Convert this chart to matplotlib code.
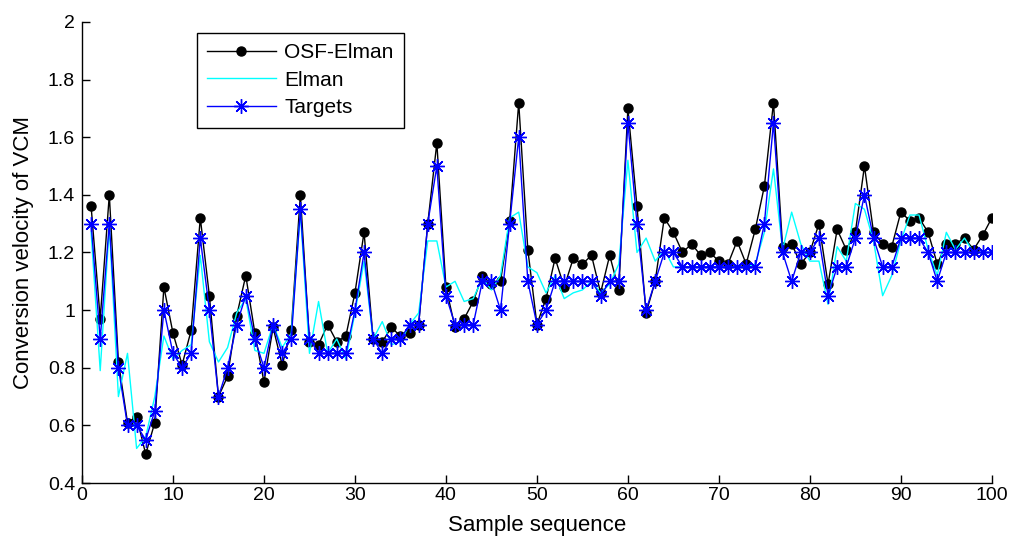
import numpy as np
import matplotlib
matplotlib.use("Agg")
import matplotlib.pyplot as plt

# ===== DATA =====
samples = np.arange(1, 101)

osf_elman = [1.36, 0.97, 1.40, 0.82, 0.61, 0.63, 0.50, 0.61, 1.08, 0.92,
             0.81, 0.93, 1.32, 1.05, 0.70, 0.77, 0.98, 1.12, 0.92, 0.75,
             0.94, 0.81, 0.93, 1.40, 0.89, 0.88, 0.95, 0.89, 0.91, 1.06,
             1.27, 0.90, 0.89, 0.94, 0.91, 0.92, 0.95, 1.30, 1.58, 1.08,
             0.94, 0.97, 1.03, 1.12, 1.09, 1.10, 1.31, 1.72, 1.21, 0.95,
             1.04, 1.18, 1.08, 1.18, 1.16, 1.19, 1.06, 1.19, 1.07, 1.70,
             1.36, 0.99, 1.10, 1.32, 1.27, 1.20, 1.23, 1.19, 1.20, 1.17,
             1.16, 1.24, 1.16, 1.28, 1.43, 1.72, 1.22, 1.23, 1.16, 1.20,
             1.30, 1.09, 1.28, 1.21, 1.27, 1.50, 1.27, 1.23, 1.22, 1.34,
             1.31, 1.32, 1.27, 1.16, 1.23, 1.23, 1.25, 1.21, 1.26, 1.32]

elman = [1.27, 0.79, 1.29, 0.70, 0.85, 0.52, 0.56, 0.70, 0.91, 0.83,
         0.86, 0.88, 1.19, 0.89, 0.82, 0.87, 0.99, 1.04, 0.86, 0.85,
         0.95, 0.87, 0.92, 1.34, 0.85, 1.03, 0.85, 0.90, 0.83, 0.99,
         1.17, 0.90, 0.96, 0.88, 0.89, 0.95, 0.99, 1.24, 1.24, 1.08,
         1.10, 1.03, 1.04, 1.11, 1.07, 1.12, 1.32, 1.34, 1.15, 1.13,
         1.06, 1.12, 1.04, 1.06, 1.07, 1.10, 1.06, 1.09, 1.16, 1.52,
         1.20, 1.25, 1.17, 1.21, 1.15, 1.15, 1.15, 1.15, 1.15, 1.15,
         1.15, 1.15, 1.15, 1.16, 1.27, 1.49, 1.21, 1.34, 1.23, 1.17,
         1.17, 1.02, 1.22, 1.17, 1.37, 1.35, 1.24, 1.05, 1.12, 1.24,
         1.33, 1.33, 1.21, 1.12, 1.27, 1.21, 1.25, 1.20, 1.20, 1.20]

targets = [1.30, 0.90, 1.30, 0.80, 0.60, 0.60, 0.55, 0.65, 1.00, 0.85,
           0.80, 0.85, 1.25, 1.00, 0.70, 0.80, 0.95, 1.05, 0.90, 0.80,
           0.95, 0.85, 0.90, 1.35, 0.90, 0.85, 0.85, 0.85, 0.85, 1.00,
           1.20, 0.90, 0.85, 0.90, 0.90, 0.95, 0.95, 1.30, 1.50, 1.05,
           0.95, 0.95, 0.95, 1.10, 1.10, 1.00, 1.30, 1.60, 1.10, 0.95,
           1.00, 1.10, 1.10, 1.10, 1.10, 1.10, 1.05, 1.10, 1.10, 1.65,
           1.30, 1.00, 1.10, 1.20, 1.20, 1.15, 1.15, 1.15, 1.15, 1.15,
           1.15, 1.15, 1.15, 1.15, 1.30, 1.65, 1.20, 1.10, 1.20, 1.20,
           1.25, 1.05, 1.15, 1.15, 1.25, 1.40, 1.25, 1.15, 1.15, 1.25,
           1.25, 1.25, 1.20, 1.10, 1.20, 1.20, 1.20, 1.20, 1.20, 1.20]

x_ticks = np.arange(0, 101, 10)
y_ticks = [0.4, 0.6, 0.8, 1.0, 1.2, 1.4, 1.6, 1.8, 2.0]
y_tick_labels = ["0.4", "0.6", "0.8", "1", "1.2", "1.4", "1.6", "1.8", "2"]

# ===== FIGURE =====
plt.rcParams['font.family'] = ['Liberation Sans', 'DejaVu Sans']

fig = plt.figure(figsize=(10.1, 5.38), dpi=100)
ax = fig.add_axes([0.0812, 0.1022, 0.9008, 0.857])

ax.plot(samples, osf_elman, color='black', lw=1.0, marker='o', ms=6.5,
        label='OSF-Elman')
ax.plot(samples, elman, color='cyan', lw=1.0, label='Elman')
ax.plot(samples, targets, color='blue', lw=1.0, marker=(8, 2, 0), ms=10.5,
        mew=1.0, label='Targets')

ax.set_xlim(0, 100)
ax.set_ylim(0.4, 2.0)
ax.set_xticks(x_ticks)
ax.set_yticks(y_ticks)
ax.set_yticklabels(y_tick_labels)

ax.spines['top'].set_visible(False)
ax.spines['right'].set_visible(False)
for s in ['left', 'bottom']:
    ax.spines[s].set_linewidth(1.0)

ax.tick_params(axis='both', direction='in', length=6, width=1.0)
ax.tick_params(axis='x', labelsize=14, pad=3)
ax.tick_params(axis='y', labelsize=14, pad=5)

ax.set_xlabel("Sample sequence", fontsize=16, labelpad=8)
ax.set_ylabel("Conversion velocity of VCM", fontsize=16, labelpad=10)

leg = ax.legend(loc='upper left', bbox_to_anchor=(0.126, 0.976), fontsize=15,
                frameon=True, fancybox=False, framealpha=1, edgecolor='black',
                handlelength=3.3, labelspacing=0.4, borderaxespad=0,
                borderpad=0.5, handletextpad=0.4)
leg.get_frame().set_linewidth(1.0)

plt.savefig("out.png", dpi=100)
